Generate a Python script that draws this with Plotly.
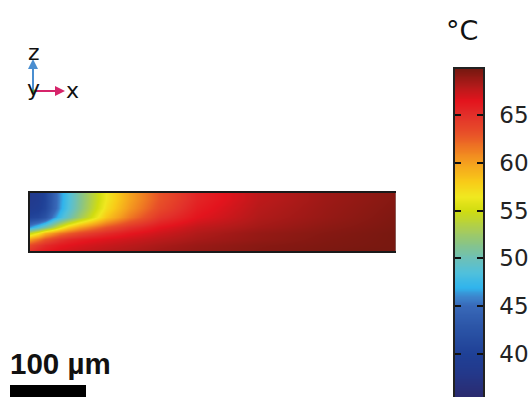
import numpy as np
import plotly.graph_objects as go

# ---- data: temperature field (°C) on a grid, x and z in µm ----
x_um = [0, 10, 20, 30, 40, 50, 65, 80, 100, 130, 170, 220, 300, 390, 482]
z_um = [0, 8, 16, 24, 32, 44, 56, 68, 76]
T_z0  = [65.0, 65.8, 66.2, 66.6, 66.9, 67.1, 67.4, 67.6, 67.9, 68.2, 68.6, 69.0, 69.4, 69.7, 69.9]
T_z8  = [63.5, 64.5, 65.3, 65.8, 66.2, 66.5, 66.8, 67.1, 67.4, 67.8, 68.3, 68.8, 69.3, 69.6, 69.8]
T_z16 = [60.0, 61.5, 63.0, 64.0, 64.8, 65.4, 65.9, 66.3, 66.7, 67.2, 67.8, 68.4, 69.0, 69.5, 69.8]
T_z24 = [54.5, 56.5, 59.0, 60.5, 61.7, 62.6, 63.6, 64.4, 65.3, 66.3, 67.2, 68.1, 68.9, 69.4, 69.8]
T_z32 = [46.5, 48.5, 50.5, 53.0, 55.5, 57.8, 59.8, 61.3, 63.0, 64.8, 66.4, 67.6, 68.5, 69.2, 69.7]
T_z44 = [40.5, 41.0, 42.5, 45.8, 47.8, 49.8, 52.5, 55.0, 58.3, 61.5, 64.6, 66.5, 68.1, 68.9, 69.6]
T_z56 = [39.0, 39.5, 40.8, 44.0, 46.5, 48.5, 51.2, 53.8, 57.0, 60.3, 63.5, 66.0, 67.9, 68.8, 69.5]
T_z68 = [38.5, 39.0, 40.5, 43.8, 46.3, 48.3, 51.0, 53.5, 56.5, 59.8, 63.0, 65.6, 67.7, 68.7, 69.4]
T_z76 = [38.5, 39.0, 40.5, 43.8, 46.3, 48.3, 51.0, 53.5, 56.5, 59.8, 63.0, 65.6, 67.7, 68.7, 69.4]
T_rows = [T_z0, T_z8, T_z16, T_z24, T_z32, T_z44, T_z56, T_z68, T_z76]

# colour scale stops (°C) and colours
T_min, T_max = 35.5, 69.8
stop_T = [35.5, 38, 40, 43, 45, 46, 47, 48.5, 50, 51.5, 53, 55, 56.5, 58, 60, 61.5, 63, 65, 66.5, 68, 69.8]
stop_c = ["#2b2a6e", "#23388a", "#1f4096", "#2c56a8", "#3868b8", "#3c84cc", "#30b4ec",
          "#50c0dc", "#6cc0b8", "#88c488", "#a8cc58", "#d0dc10", "#f0e820", "#f8cc18",
          "#f5a01e", "#ef7a22", "#e85228", "#e2302a", "#e3141d", "#b41a1a", "#781810"]
colorscale = [[(t - T_min) / (T_max - T_min), c] for t, c in zip(stop_T, stop_c)]

colorbar_ticks = [40, 45, 50, 55, 60, 65]

W, H = 530, 397
def px(x):
    return x / W
def py(y):
    return 1 - y / H

fig = go.Figure()

fig.add_trace(go.Heatmap(
    x=x_um, y=z_um, z=T_rows, zmin=T_min, zmax=T_max,
    colorscale=colorscale, zsmooth="best", showscale=False,
    xaxis="x", yaxis="y", hoverinfo="skip"))

# colour legend strip
bar_levels = np.linspace(T_min, T_max, 120)
fig.add_trace(go.Heatmap(
    x=[0, 1], y=bar_levels, z=[[v, v] for v in bar_levels],
    zmin=T_min, zmax=T_max, colorscale=colorscale, zsmooth="best",
    showscale=False, xaxis="x2", yaxis="y2", hoverinfo="skip"))

fig.update_layout(
    width=W, height=H, margin=dict(l=0, r=0, t=0, b=0),
    paper_bgcolor="white", plot_bgcolor="white", showlegend=False,
    font=dict(family="DejaVu Sans", color="#111"),
    xaxis=dict(domain=[px(30), px(396)], range=[0, 482], showgrid=False, zeroline=False,
               showticklabels=False, ticks="", showline=True, mirror=True,
               linecolor="#1a1a1a", linewidth=2),
    yaxis=dict(domain=[py(251), py(193)], range=[0, 76], showgrid=False, zeroline=False,
               showticklabels=False, ticks="", showline=True, mirror=False,
               linecolor="#1a1a1a", linewidth=2),
    xaxis2=dict(domain=[px(455), px(483)], range=[0, 1], anchor="y2", showgrid=False,
                zeroline=False, showticklabels=False, ticks="", showline=True, mirror=True,
                linecolor="#222", linewidth=1.5),
    yaxis2=dict(domain=[0, py(69)], range=[T_min, T_max], anchor="x2", side="right",
                showgrid=False, zeroline=False, tickvals=colorbar_ticks,
                ticks="inside", ticklen=6, tickwidth=2, tickcolor="#111",
                showline=True, mirror="ticks", linecolor="#222", linewidth=1.5,
                tickfont=dict(size=23, color="#222", family="DejaVu Sans"),
                ticklabelstandoff=10),
)

# right edge of domain (thin grey)
fig.add_shape(type="line", xref="x", yref="y", x0=482, x1=482, y0=0, y1=76,
              line=dict(color="#999", width=1))

# unit label
fig.add_annotation(x=px(462), y=py(30), xref="paper", yref="paper", text="°C",
                   showarrow=False, font=dict(size=27, color="#111"),
                   xanchor="center", yanchor="middle")

# axis triad
ox, oy = 33, 91
fig.add_annotation(x=px(ox), y=py(59), xref="paper", yref="paper", ax=0, ay=oy - 59,
                   showarrow=True, arrowhead=2, arrowsize=1, arrowwidth=2,
                   arrowcolor="#4a8ed0", text="")
fig.add_annotation(x=px(65), y=py(oy), xref="paper", yref="paper", ax=-(65 - ox), ay=0,
                   showarrow=True, arrowhead=2, arrowsize=1, arrowwidth=2,
                   arrowcolor="#d6246a", text="")
fig.add_shape(type="circle", xref="paper", yref="paper",
              x0=px(ox - 2), x1=px(ox + 2), y0=py(oy + 2), y1=py(oy - 2),
              fillcolor="#3ab04a", line=dict(width=0))
for txt, xx, yy in [("z", 34, 52), ("y", 33, 88), ("x", 72, 90)]:
    fig.add_annotation(x=px(xx), y=py(yy), xref="paper", yref="paper", text=txt,
                       showarrow=False, font=dict(size=22, color="#111"),
                       xanchor="center", yanchor="middle")

# scale bar
fig.add_annotation(x=px(8), y=py(363), xref="paper", yref="paper", text="<b>100 µm</b>",
                   showarrow=False, font=dict(size=29.5, color="#111", family="Liberation Sans"),
                   xanchor="left", yanchor="middle")
fig.add_shape(type="rect", xref="paper", yref="paper", x0=px(10), x1=px(86),
              y0=0, y1=py(385), fillcolor="black", line=dict(width=0))

fig.write_html("out.html")
